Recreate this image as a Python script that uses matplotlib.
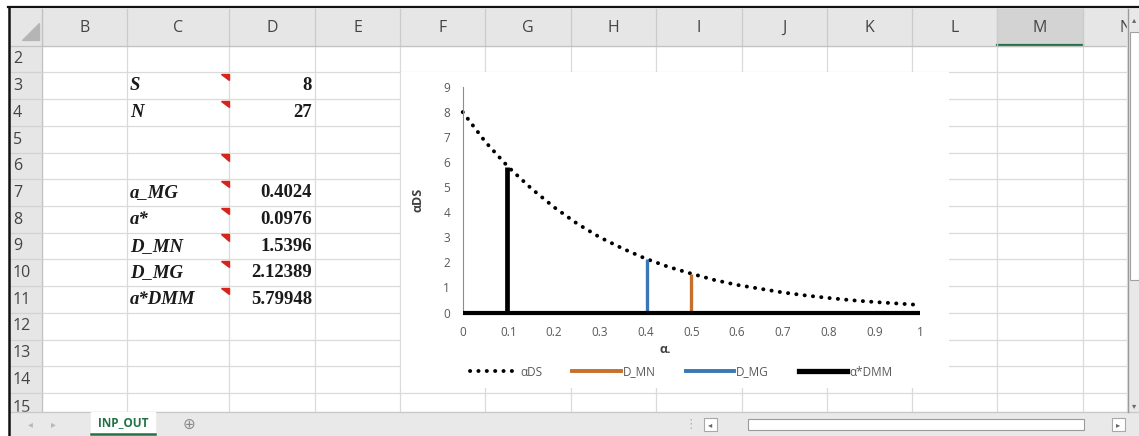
import matplotlib
matplotlib.use("Agg")
import matplotlib.pyplot as plt
from matplotlib.patches import Rectangle, Polygon
from matplotlib.lines import Line2D

# --- sheet content ---
col_letters = ["B", "C", "D", "E", "F", "G", "H", "I", "J", "K", "L", "M", "N"]
col_edges = [42, 127, 229, 315, 400, 485, 571, 656, 742, 827, 912, 997, 1083, 1168]
row_numbers = list(range(2, 16))
cell_rows = [3, 4, 6, 7, 8, 9, 10, 11]
cell_labels = ["S", "N", "", "a_MG", "a*", "D_MN", "D_MG", "a*DMM"]
cell_values = ["8", "27", "", "0.4024", "0.0976", "1.5396", "2.12389", "5.79948"]
sheet_name = "INP_OUT"

# --- chart data ---
alpha = [0.0, 0.05, 0.1, 0.15, 0.2, 0.25, 0.3, 0.35, 0.4, 0.45, 0.5,
         0.55, 0.6, 0.65, 0.7, 0.75, 0.8, 0.85, 0.9, 0.95, 1.0]
alpha_ds = [8.0, 6.8, 5.8, 4.95, 4.2, 3.55, 3.0, 2.55, 2.15, 1.82, 1.55,
            1.3, 1.1, 0.95, 0.8, 0.68, 0.58, 0.49, 0.42, 0.36, 0.30]
stem_names = ["D_MN", "D_MG", "α*DMM"]
stem_alpha = [0.5, 0.4024, 0.0976]
stem_value = [1.5396, 2.12389, 5.79948]
stem_colors = ["#c5702c", "#3a78b5", "#000000"]
stem_widths = [2.4, 2.4, 3.4]

W, H = 1139, 436
ui_font = ["Open Sans", "DejaVu Sans"]
serif = ["Liberation Serif", "DejaVu Serif"]


def row_top(r):
    return 72.5 + (r - 3) * 26.7


fig = plt.figure(figsize=(W / 100, H / 100), dpi=100)
fig.patch.set_facecolor("white")
bg = fig.add_axes([0, 0, 1, 1])
bg.set_xlim(0, W)
bg.set_ylim(H, 0)
bg.axis("off")

grid_c = "#dadada"
head_c = "#e6e6e6"
tab_top = 412
head_bot = 45.8

# cell grid
for r in range(3, 16):
    y = row_top(r)
    bg.plot([42, 1127], [y, y], color=grid_c, lw=0.9, zorder=1)
for x in col_edges[1:-1]:
    bg.plot([x, x], [head_bot, tab_top], color=grid_c, lw=0.9, zorder=1)

# headers
bg.add_patch(Rectangle((10, 9), 1117, head_bot - 9, color=head_c, zorder=2))
bg.add_patch(Rectangle((10, head_bot), 32, tab_top - head_bot, color=head_c, zorder=2))
bg.add_patch(Rectangle((997, 9), 86, head_bot - 9, color="#d3d3d3", zorder=2))
bg.plot([997, 1083], [head_bot - 1, head_bot - 1], color="#217346", lw=1.6, zorder=3)
for x in col_edges:
    bg.plot([x, x], [9, head_bot], color="#cbcbcb", lw=0.9, zorder=3)
bg.plot([10, 1127], [head_bot, head_bot], color="#c2c2c2", lw=0.9, zorder=3)
bg.plot([42, 42], [9, tab_top], color="#c2c2c2", lw=0.9, zorder=3)
for r in range(3, 16):
    bg.plot([10, 42], [row_top(r), row_top(r)], color="#d2d2d2", lw=0.9, zorder=3)
bg.add_patch(Polygon([(22, 40), (39, 40), (39, 23)], color="#b5b5b5", zorder=3))

for i, letter in enumerate(col_letters):
    cx = (col_edges[i] + col_edges[i + 1]) / 2
    bg.text(cx, 28, letter, ha="center", va="center", fontsize=11.5,
            family=ui_font, color="#444444", zorder=4)
for r in row_numbers:
    top = 45.8 if r == 2 else row_top(r)
    dy = 15 if r == 15 else 13.6
    bg.text(13, top + dy, str(r), ha="left", va="center", fontsize=11.5,
            family=ui_font, color="#444444", zorder=4)

# cells
for r, lab, val in zip(cell_rows, cell_labels, cell_values):
    cy = row_top(r) + 13.5
    if lab:
        bg.text(130, cy, lab, ha="left", va="center", fontsize=13.5, family=serif,
                style="italic", weight="bold", color="#1a1a1a", zorder=4)
    if val:
        bg.text(312, cy, val, ha="right", va="center", fontsize=13.5, family=serif,
                weight="bold", color="#1a1a1a", zorder=4)
    t = row_top(r)
    bg.add_patch(Polygon([(221, t + 1.5), (228.5, t + 1.5), (228.5, t + 8)],
                         color="#d9241c", zorder=4))

# chart area background
bg.add_patch(Rectangle((401, 72.5), 548, 315.5, facecolor="white", edgecolor="none", zorder=5))

# bottom tab bar
bg.add_patch(Rectangle((10, tab_top), W - 10, H - tab_top, color="#e9e9e9", zorder=6))
bg.plot([10, W], [tab_top, tab_top], color="#c8c8c8", lw=0.9, zorder=7)
bg.text(30, 424, "◂", ha="center", va="center", fontsize=7, color="#b8b8b8", zorder=7)
bg.text(53, 424, "▸", ha="center", va="center", fontsize=7, color="#b8b8b8", zorder=7)
bg.add_patch(Rectangle((91, tab_top), 64, 22, color="white", zorder=7))
bg.plot([91, 155], [434, 434], color="#217346", lw=1.8, zorder=8)
bg.text(123, 423, sheet_name, ha="center", va="center", fontsize=8.5, weight="bold",
        family=ui_font, color="#217346", zorder=8)
bg.text(189, 424, "⊕", ha="center", va="center", fontsize=11, color="#8a8a8a", zorder=7)
bg.text(691, 424, "⋮", ha="center", va="center", fontsize=9, color="#b0b0b0", zorder=7)
bg.add_patch(Rectangle((704, 418), 13, 13, facecolor="white", edgecolor="#a8a8a8", lw=0.8, zorder=7))
bg.text(710.5, 424.5, "◂", ha="center", va="center", fontsize=6, color="#666666", zorder=8)
bg.add_patch(Rectangle((748, 419), 336, 11, facecolor="white", edgecolor="#9a9a9a", lw=0.8, zorder=7))
bg.add_patch(Rectangle((1112, 418), 13, 13, facecolor="white", edgecolor="#a8a8a8", lw=0.8, zorder=7))
bg.text(1118.5, 424.5, "▸", ha="center", va="center", fontsize=6, color="#666666", zorder=8)

# right scroll bar
bg.add_patch(Rectangle((1127, 9), W - 1127, tab_top - 9, color="#e8e8e8", zorder=6))
bg.plot([1127.5, 1127.5], [9, tab_top], color="#9a9a9a", lw=1.0, zorder=7)
bg.add_patch(Rectangle((1130, 32), 8.5, 248, facecolor="white", edgecolor="#a0a0a0", lw=0.8, zorder=7))
bg.text(1134, 20, "▴", ha="center", va="center", fontsize=6, color="#666666", zorder=8)
bg.text(1134, 406, "▾", ha="center", va="center", fontsize=6, color="#666666", zorder=8)

# window frame
bg.plot([8, W], [7.5, 7.5], color="#111111", lw=1.6, zorder=9)
bg.plot([9.2, 9.2], [7, H], color="#111111", lw=1.8, zorder=9)

# --- the chart ---
x0, x1, y0, y1 = 462.7, 920.0, 312.5, 87.0
ax = fig.add_axes([x0 / W, 1 - y0 / H, (x1 - x0) / W, (y0 - y1) / H])
ax.patch.set_alpha(0)
ax.set_zorder(10)
ax.set_xlim(0, 1)
ax.set_ylim(0, 9)
ax.set_xticks([0, 0.1, 0.2, 0.3, 0.4, 0.5, 0.6, 0.7, 0.8, 0.9, 1])
ax.set_xticklabels(["0", "0.1", "0.2", "0.3", "0.4", "0.5", "0.6", "0.7", "0.8", "0.9", "1"])
ax.set_yticks(range(10))
ax.tick_params(length=0, labelsize=8.5, labelcolor="#595959")
ax.tick_params(axis="x", pad=10)
ax.tick_params(axis="y", pad=9)
for lab in ax.get_xticklabels() + ax.get_yticklabels():
    lab.set_family(ui_font)
for s in ["top", "right"]:
    ax.spines[s].set_visible(False)
ax.spines["left"].set_color("#8c8c8c")
ax.spines["left"].set_linewidth(0.8)
ax.spines["bottom"].set_color("black")
ax.spines["bottom"].set_linewidth(3.0)
ax.spines["bottom"].set_capstyle("butt")

dots = (0, (0.05, 2.1))
ax.plot(alpha, alpha_ds, color="black", lw=2.8, linestyle=dots,
        dash_capstyle="round", clip_on=False, label="αDS")
handles = [Line2D([], [], color="black", lw=2.8, linestyle=dots, dash_capstyle="round")]
for name, xa, val, c, w in zip(stem_names, stem_alpha, stem_value, stem_colors, stem_widths):
    ax.vlines(xa, 0, val, color=c, lw=w)
    handles.append(Line2D([], [], color=c, lw=w + 0.4))

ax.set_xlabel("α.", fontsize=9, weight="bold", color="#404040", family=ui_font)
ax.xaxis.set_label_coords(0.442, -0.135)
ax.set_ylabel("αDS", fontsize=9, weight="bold", color="#404040", family=ui_font)
ax.yaxis.set_label_coords(-0.083, 0.5)

leg = fig.legend(handles, ["αDS"] + stem_names, loc="center left",
                 bbox_to_anchor=(470 / W, 1 - 372 / H), ncol=4, frameon=False,
                 fontsize=8.5, handlelength=4.1, handletextpad=0.2,
                 columnspacing=2.5, borderpad=0, borderaxespad=0)
for t in leg.get_texts():
    t.set_color("#595959")
    t.set_family(ui_font)
leg.set_zorder(11)

fig.savefig("out.png", dpi=100)
